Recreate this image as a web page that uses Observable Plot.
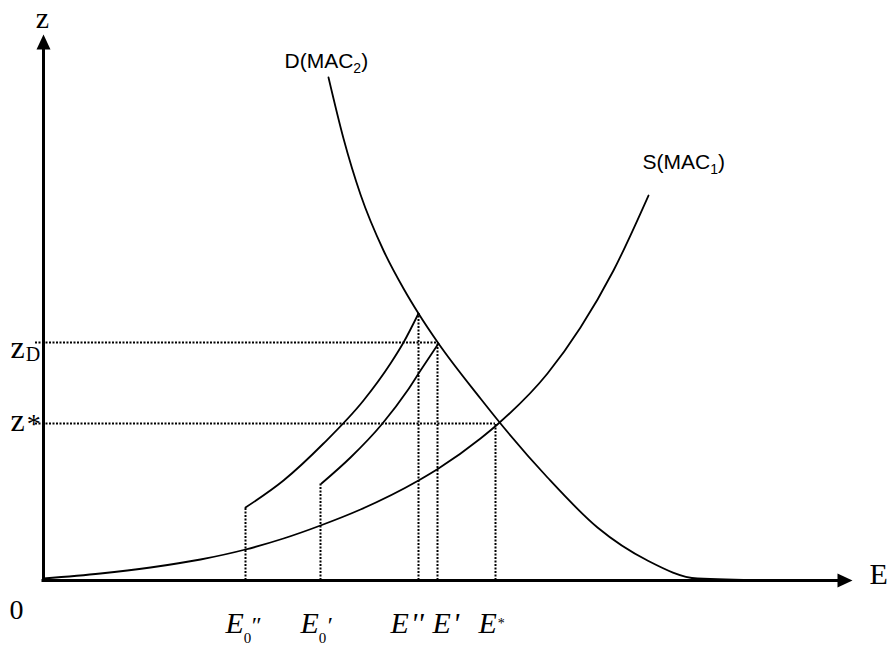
<!DOCTYPE html>
<html><head><meta charset="utf-8">
<script src="https://cdn.jsdelivr.net/npm/d3@7"></script>
<script src="https://cdn.jsdelivr.net/npm/@observablehq/plot@0.6"></script>
<style>
html,body{margin:0;padding:0;background:#fff;}
#chart svg{display:block;}
</style></head><body><div id="chart"></div>
<script>
// Demand curve D(MAC2): emissions E vs permit price z
const demandE = [285,300,317,340,360,375,395,437,457,504,554,604,654,732];
const demandZ = [503,442,386,330,292,267,237,182,157,103,53,20,2,0];
// Supply curve S(MAC1)
const supplyE = [0,57,107,157,202,240,277,317,375,395,437,455,504,537,570,605];
const supplyZ = [2,7,13,21,31,42,55,71,100,112,142,157,207,253,310,385];
// Curve starting at E0''
const curveA_E = [202,240,280,320,347,360,375];
const curveA_Z = [73,100,137,180,217,238,267];
// Curve starting at E0'
const curveB_E = [278,307,339,364,377,395];
const curveB_Z = [97,123,157,190,210,237];
// E-axis markers
const tickLabels = ["E″0","E′0","E''","E'","E*"];
const tickE = [202,277,375,394,452];
const tickTop = [73,97,267,237,157];
// z-axis markers
const zLabels = ["zD","z*"];
const zValues = [238,157];
const zEnds = [tickE[3], tickE[4]];
// axis extents
const xAxisEnd = 800, zAxisEnd = 537;

const zip = (a, b) => a.map((v, i) => ({E: v, z: b[i]}));
const demand = zip(demandE, demandZ);
const supply = zip(supplyE, supplyZ);
const curveA = zip(curveA_E, curveA_Z);
const curveB = zip(curveB_E, curveB_Z);

// label layout (offsets in px)
const tickDx = [-20,-20,-28,-5,-17];
const zDy = [15, 7];

const arrowUp = {draw(ctx){ ctx.moveTo(0,-9); ctx.lineTo(7,6); ctx.lineTo(-7,6); ctx.closePath(); }};
const arrowRight = {draw(ctx){ ctx.moveTo(9,0); ctx.lineTo(-6,7); ctx.lineTo(-6,-7); ctx.closePath(); }};

const serif = "'Liberation Serif', 'Times New Roman', serif";
const sans = "'Liberation Sans', Arial, sans-serif";
const dotted = {stroke: "#000", strokeWidth: 2, strokeDasharray: "2,1.5"};
const curveStyle = {x: "E", y: "z", stroke: "#000", strokeWidth: 1.8, curve: "monotone-x"};

const svg = Plot.plot({
  width: 892, height: 645,
  marginTop: 0, marginRight: 0, marginBottom: 0, marginLeft: 0,
  style: {background: "white"},
  x: {domain: [-43, 849], axis: null},
  y: {domain: [-65, 580], axis: null},
  marks: [
    Plot.ruleY(zValues, {y: d => d, x1: -8, x2: (d, i) => zEnds[i], ...dotted}),
    Plot.ruleX(tickE, {x: d => d, y1: 0, y2: (d, i) => tickTop[i], ...dotted}),
    Plot.line(supply, curveStyle),
    Plot.line(demand, curveStyle),
    Plot.line(curveA, curveStyle),
    Plot.line(curveB, curveStyle),
    Plot.ruleX([0], {y1: 0, y2: zAxisEnd - 6, stroke: "#000", strokeWidth: 3}),
    Plot.ruleY([0], {x1: -1.5, x2: xAxisEnd - 5, stroke: "#000", strokeWidth: 3}),
    Plot.dot([0], {x: () => 0, y: () => zAxisEnd, symbol: arrowUp, r: 5, fill: "#000"}),
    Plot.dot([0], {x: () => xAxisEnd, y: () => 0, symbol: arrowRight, r: 5, fill: "#000"}),
    // axis names
    Plot.text(["z"], {x: () => 0, y: () => zAxisEnd, text: d => d, dx: -1, dy: -16, textAnchor: "middle", lineAnchor: "bottom", fontFamily: serif, fontSize: 30}),
    Plot.text(["E"], {x: () => xAxisEnd, y: () => 0, text: d => d, dx: 26, dy: 3, textAnchor: "start", lineAnchor: "bottom", fontFamily: serif, fontSize: 30}),
    Plot.text(["0"], {x: () => 0, y: () => 0, text: d => d, dx: -27, dy: 38, textAnchor: "middle", lineAnchor: "bottom", fontFamily: serif, fontSize: 28}),
    // E markers
    Plot.text(tickLabels, {x: (d, i) => tickE[i], y: () => 0, text: d => d, dy: 52, textAnchor: "start", lineAnchor: "bottom", fontFamily: serif, fontStyle: "italic", fontSize: 30}),
    // z markers
    Plot.text(zLabels, {x: () => 0, y: (d, i) => zValues[i], text: d => d, dx: -33, textAnchor: "start", lineAnchor: "bottom", fontFamily: serif, fontSize: 32}),
    // curve labels
    Plot.text(["D(MAC2)"], {x: () => demandE[0], y: () => demandZ[0], text: d => d, dx: -44, dy: -10, textAnchor: "start", lineAnchor: "bottom", fontFamily: sans, fontSize: 21}),
    Plot.text(["S(MAC1)"], {x: () => supplyE[supplyE.length - 1], y: () => supplyZ[supplyZ.length - 1], text: d => d, dx: -6, dy: -27, textAnchor: "start", lineAnchor: "bottom", fontFamily: sans, fontSize: 21})
  ]
});

// per-label offsets and rich text (sub/superscripts)
const rich = {
  "D(MAC2)": [["D(MAC"], ["2", {size: 14, dy: 5}], [")", {dy: -5}]],
  "S(MAC1)": [["S(MAC"], ["1", {size: 14, dy: 5}], [")", {dy: -5}]],
  "zD": [["z"], ["D", {size: 20, dy: 3, dx: 1}]],
  "z*": [["z"], ["*", {size: 28, dy: 2, dx: 2}]],
  "E″0": [["E"], ["0", {size: 15, dy: 10, style: "normal"}], ["″", {size: 24, dx: -1, dy: -10}]],
  "E′0": [["E"], ["0", {size: 15, dy: 10, style: "normal"}], ["′", {size: 24, dy: -10}]],
  "E''": [["E"], ["''", {dx: 2}]],
  "E'": [["E"], ["'", {dx: 2}]],
  "E*": [["E"], ["*", {size: 14, dy: -5, dx: 1, style: "normal"}]]
};
d3.select(svg).selectAll("text").each(function() {
  const t = this.textContent;
  const ti = tickLabels.indexOf(t);
  if (ti >= 0) {
    const tr = this.getAttribute("transform") || "";
    this.setAttribute("transform", tr + ` translate(${tickDx[ti]},0)`);
  }
  const zi = zLabels.indexOf(t);
  if (zi >= 0) {
    const tr = this.getAttribute("transform") || "";
    this.setAttribute("transform", tr + ` translate(0,${zDy[zi]})`);
  }
  const segs = rich[t];
  if (!segs) return;
  const el = d3.select(this);
  el.text(null);
  for (const [s, o = {}] of segs) {
    const ts = el.append("tspan").text(s);
    if (o.size) ts.attr("font-size", o.size);
    if (o.dx) ts.attr("dx", o.dx);
    if (o.dy) ts.attr("dy", o.dy);
    if (o.style) ts.attr("font-style", o.style);
  }
});

document.getElementById("chart").appendChild(svg);
</script>
</body></html>
